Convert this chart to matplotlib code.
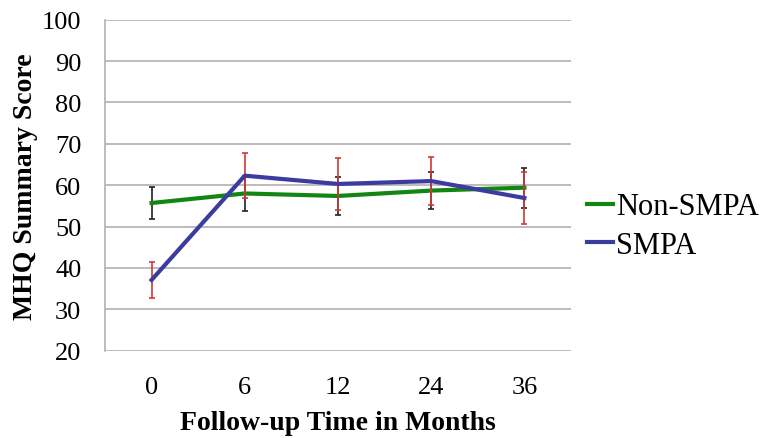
import matplotlib
matplotlib.use("Agg")
import matplotlib.pyplot as plt
from matplotlib.lines import Line2D
import numpy as np

months = ["0", "6", "12", "24", "36"]
non_smpa = [55.7, 58.0, 57.4, 58.7, 59.4]
non_smpa_err = [3.9, 4.2, 4.5, 4.4, 4.8]
smpa = [37.1, 62.3, 60.3, 61.0, 56.9]
smpa_err = [4.3, 5.5, 6.2, 5.8, 6.3]

plt.rcParams['font.family'] = 'serif'
plt.rcParams['font.serif'] = ['Liberation Serif', 'DejaVu Serif']

fig = plt.figure(figsize=(7.61, 4.39), dpi=100)
ax = fig.add_axes([105/761, 1-351.7/439, (571-105)/761, (351.7-20.7)/439])

x = np.arange(len(months))
green = '#138513'
blue = '#3c3ca0'
ax.errorbar(x, non_smpa, yerr=non_smpa_err, color=green, lw=3, ecolor='#222222',
            elinewidth=1.2, capsize=2.5, capthick=1.2, label='Non-SMPA', zorder=3)
ax.errorbar(x, smpa, yerr=smpa_err, color=blue, lw=3, ecolor='#d03a3a',
            elinewidth=1.2, capsize=2.5, capthick=1.2, label='SMPA', zorder=4)

ax.set_xlim(-0.5, len(months) - 0.5)
ax.set_ylim(20, 100)
ax.set_yticks(range(20, 101, 10))
ax.set_xticks(x)
ax.set_xticklabels(months)
ax.tick_params(axis='both', length=0, labelsize=19)
ax.tick_params(axis='y', pad=17)
ax.tick_params(axis='x', pad=18)
ax.grid(axis='y', color='#b0b0b0', lw=1.2)
ax.set_axisbelow(True)
for s in ['top', 'right', 'bottom']:
    ax.spines[s].set_visible(False)
ax.spines['left'].set_color('#b0b0b0')
ax.spines['left'].set_linewidth(1.2)

ax.set_xlabel('Follow-up Time in Months', fontsize=20, fontweight='bold', labelpad=9)
ax.set_ylabel('MHQ Summary Score', fontsize=20, fontweight='bold', labelpad=3)

labels = ['Non-SMPA', 'SMPA']
h = [Line2D([], [], color=green, lw=3), Line2D([], [], color=blue, lw=3)]
fig.legend(h, labels, loc='center left', bbox_to_anchor=(587/761, 1-227/439),
           frameon=False, fontsize=22, handlelength=0.85, handletextpad=0.1,
           labelspacing=0.3, borderaxespad=0, borderpad=0)

fig.savefig('out.png', dpi=100)
